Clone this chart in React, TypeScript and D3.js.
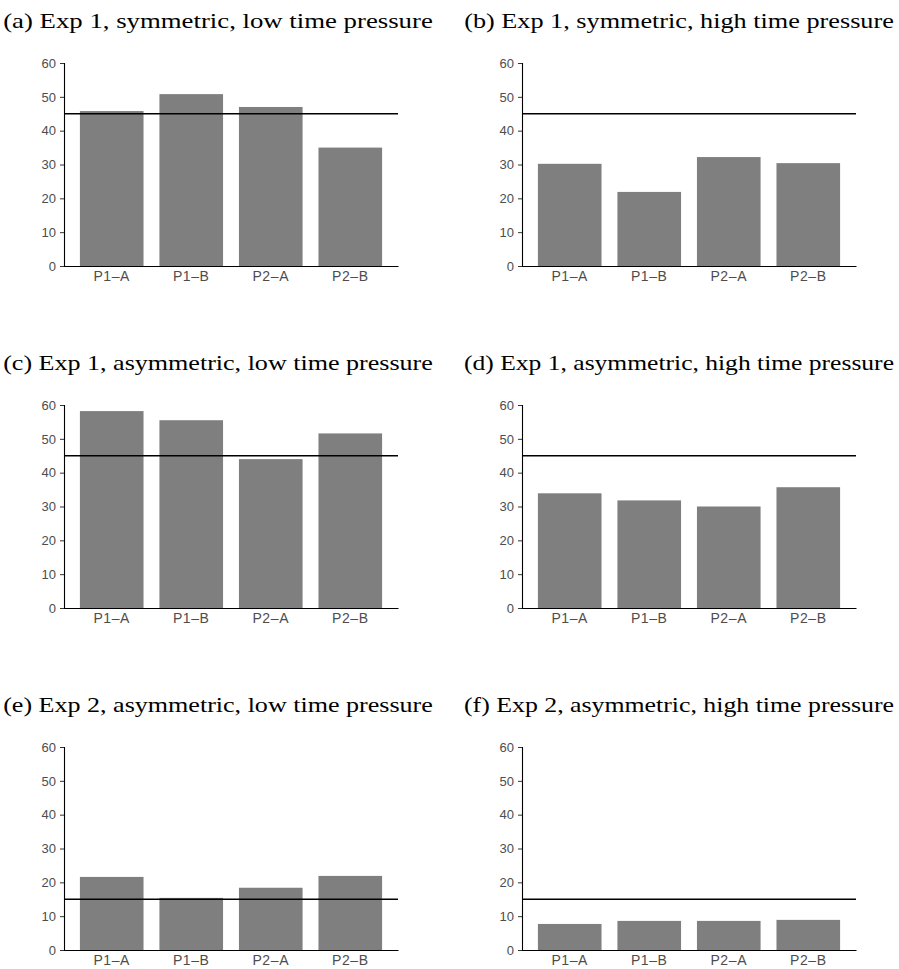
import { useEffect, useRef } from "react";
import * as d3 from "d3";

const categories = ["P1\u2013A", "P1\u2013B", "P2\u2013A", "P2\u2013B"];
const panelTitles = [
  "(a) Exp 1, symmetric, low time pressure",
  "(b) Exp 1, symmetric, high time pressure",
  "(c) Exp 1, asymmetric, low time pressure",
  "(d) Exp 1, asymmetric, high time pressure",
  "(e) Exp 2, asymmetric, low time pressure",
  "(f) Exp 2, asymmetric, high time pressure",
];
const expA = [45.8, 50.8, 47.0, 35.0];
const expB = [30.2, 21.9, 32.2, 30.4];
const expC = [58.2, 55.5, 44.0, 51.6];
const expD = [33.9, 31.8, 30.0, 35.7];
const expE = [21.6, 15.4, 18.4, 21.9];
const expF = [7.7, 8.6, 8.6, 8.9];
const panelValues = [expA, expB, expC, expD, expE, expF];
const benchmark = [45, 45, 45, 45, 15, 15];
const yTicks = [0, 10, 20, 30, 40, 50, 60];

export default function App() {
  const ref = useRef<SVGSVGElement>(null);

  useEffect(() => {
    const svg = d3.select(ref.current);
    svg.selectAll("*").remove();

    const colLeft = [64, 522];
    const plotW = 334;
    const plotH = 203;
    const rowTop = [63, 405, 747];
    const titleCenter = [218, 679];

    panelValues.forEach((vals, i) => {
      const col = i % 2;
      const row = Math.floor(i / 2);
      const left = colLeft[col];
      const top = rowTop[row];

      const x = d3
        .scaleBand()
        .domain(categories)
        .range([left, left + plotW])
        .paddingInner(0.2)
        .paddingOuter(0.2);
      const y = d3.scaleLinear().domain([0, 60]).range([top + plotH, top]);

      const g = svg.append("g");

      // title (stretched a bit, the original used a wider serif)
      const t = g
        .append("text")
        .attr("x", titleCenter[col])
        .attr("y", 28.5 + row * 342)
        .attr("text-anchor", "middle")
        .attr("font-family", "'Liberation Serif', serif")
        .attr("font-size", 21.5)
        .attr("fill", "#000")
        .text(panelTitles[i]);
      const w = (t.node() as SVGTextElement).getComputedTextLength();
      const k = 430 / w;
      t.attr(
        "transform",
        `translate(${titleCenter[col]},0) scale(${k},1) translate(${-titleCenter[col]},0)`
      );

      // bars
      g.selectAll("rect.bar")
        .data(vals)
        .join("rect")
        .attr("class", "bar")
        .attr("x", (_, j) => x(categories[j])!)
        .attr("width", x.bandwidth())
        .attr("y", (d) => y(d))
        .attr("height", (d) => y(0) - y(d))
        .attr("fill", "#7f7f7f");

      // y axis
      const yAxis = g
        .append("g")
        .attr("transform", `translate(${left},0)`)
        .call(d3.axisLeft(y).tickValues(yTicks).tickSize(4).tickPadding(4));
      yAxis.select(".domain").attr("stroke", "#000").attr("stroke-width", 1.1);
      yAxis.selectAll(".tick line").attr("stroke", "#333");
      yAxis
        .selectAll(".tick text")
        .attr("font-family", "'Liberation Sans', Arial, sans-serif")
        .attr("font-size", 13)
        .attr("fill", "#4d4d4d");

      // x axis, no ticks
      const xAxis = g
        .append("g")
        .attr("transform", `translate(0,${top + plotH})`)
        .call(d3.axisBottom(x).tickSize(0).tickPadding(5.5).tickSizeOuter(0));
      xAxis.select(".domain").attr("stroke", "#000").attr("stroke-width", 1.1);
      xAxis
        .selectAll(".tick text")
        .attr("font-family", "'Liberation Sans', Arial, sans-serif")
        .attr("font-size", 14)
        .attr("letter-spacing", 0.6)
        .attr("fill", "#4d4d4d");

      // reference line
      g.append("line")
        .attr("x1", left)
        .attr("x2", left + plotW)
        .attr("y1", y(benchmark[i]))
        .attr("y2", y(benchmark[i]))
        .attr("stroke", "#000")
        .attr("stroke-width", 1.7);
    });
  }, []);

  return (
    <svg
      ref={ref}
      width={899}
      height={969}
      style={{ position: "absolute", left: 0, top: 0, background: "#fff" }}
    />
  );
}
